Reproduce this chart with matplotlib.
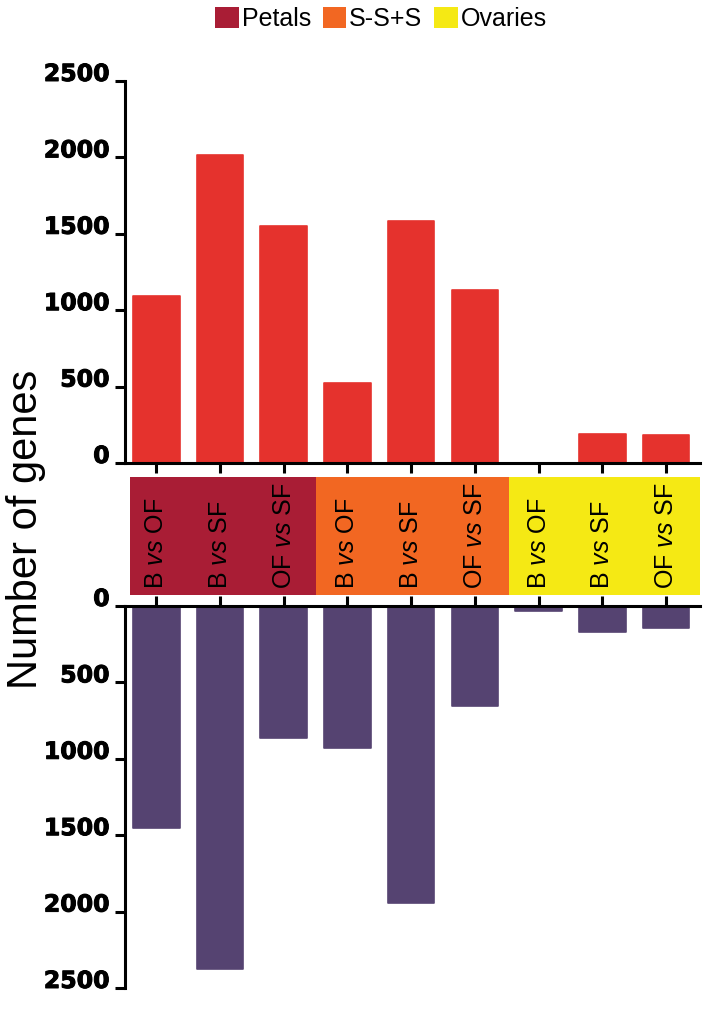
import matplotlib
matplotlib.use("Agg")
import matplotlib.pyplot as plt
import matplotlib.patheffects as pe
from matplotlib.patches import Rectangle, Patch

plt.rcParams['font.family'] = ['Liberation Sans', 'DejaVu Sans']
plt.rcParams['mathtext.fontset'] = 'custom'
plt.rcParams['mathtext.rm'] = 'Liberation Sans'
plt.rcParams['mathtext.it'] = 'Liberation Sans:italic'
plt.rcParams['ytick.alignment'] = 'baseline'

# ---- data ----
comparisons = [r"B $\mathit{vs}$ OF", r"B $\mathit{vs}$ SF", r"OF $\mathit{vs}$ SF"] * 3
tissues = ["Petals", "S-S+S", "Ovaries"]
up_genes = [1090, 2015, 1550, 525, 1585, 1130, 0, 190, 180]
down_genes = [1450, 2375, 865, 930, 1945, 655, 35, 170, 145]
y_ticks = [0, 500, 1000, 1500, 2000, 2500]

up_color = "#E5322D"
down_color = "#554371"
tissue_colors = ["#A91D35", "#F26722", "#F5E914"]

W, H = 720, 1021
fig = plt.figure(figsize=(W / 100, H / 100), dpi=100)

def fx(px):
    return px / W

def fy(py):
    return 1 - py / H

left, right = 125, 700
xs = list(range(len(up_genes)))
xlim = (-0.49, 8.53)
bar_w = 0.73

# top axes (up-regulated)
ax_up = fig.add_axes([fx(left), fy(463), fx(right) - fx(left), fy(81) - fy(463)])
ax_up.bar(xs, up_genes, width=bar_w, color=up_color, edgecolor=up_color,
          linewidth=1.2, joinstyle='round')
ax_up.set_ylim(0, 2500)
ax_up.set_xlim(*xlim)

# bottom axes (down-regulated)
ax_dn = fig.add_axes([fx(left), fy(988), fx(right) - fx(left), fy(606) - fy(988)])
ax_dn.bar(xs, down_genes, width=bar_w, color=down_color, edgecolor=down_color,
          linewidth=1.2, joinstyle='round')
ax_dn.set_ylim(2500, 0)
ax_dn.set_xlim(*xlim)

for ax, xpos in ((ax_up, 'bottom'), (ax_dn, 'top')):
    for s in ax.spines.values():
        s.set_visible(False)
    ax.spines['left'].set_visible(True)
    ax.spines[xpos].set_visible(True)
    ax.spines['left'].set_linewidth(2.2)
    ax.spines[xpos].set_linewidth(2.2)
    ax.set_yticks(y_ticks)
    labels = ax.set_yticklabels([str(t) for t in y_ticks], fontsize=17,
                                fontweight='bold', family='DejaVu Sans')
    for lab in labels:
        lab.set_path_effects([pe.withStroke(linewidth=0.7, foreground='black')])
    ax.set_xticks(xs)
    ax.set_xticklabels([])
    ax.tick_params(axis='both', direction='out', length=7, width=2.2, pad=4)
    ax.xaxis.set_ticks_position(xpos)
    ax.set_facecolor('none')

# middle band with category labels
ax_mid = fig.add_axes([fx(left), fy(595), fx(right) - fx(left), fy(477) - fy(595)])
ax_mid.set_xlim(*xlim)
ax_mid.set_ylim(0, 1)
ax_mid.axis('off')
bounds = [-0.41, 2.51, 5.53, 8.53]
for i, c in enumerate(tissue_colors):
    ax_mid.add_patch(Rectangle((bounds[i], 0), bounds[i + 1] - bounds[i], 1,
                               facecolor=c, edgecolor='none'))
for x, lab in zip(xs, comparisons):
    ax_mid.text(x, 0.05, lab, rotation=90, ha='center', va='bottom', fontsize=18)

# legend
handles = [Patch(facecolor=c, edgecolor='none') for c in tissue_colors]
fig.legend(handles, tissues, loc='center', bbox_to_anchor=(fx(381), fy(19)), ncol=3,
           frameon=False, fontsize=18, handlelength=0.95, handleheight=0.95,
           handletextpad=0.12, columnspacing=0.45, borderaxespad=0)

fig.text(fx(26), fy(529), "Number of genes", rotation=90, ha='center', va='center',
         fontsize=30)

fig.savefig("out.png", dpi=100)
